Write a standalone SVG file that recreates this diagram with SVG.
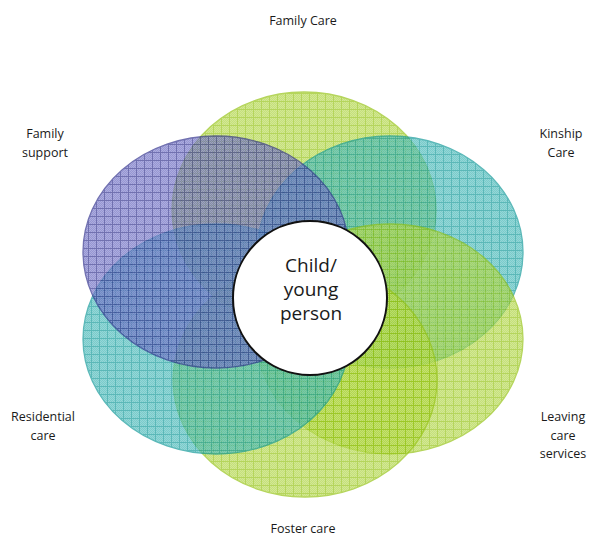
<svg xmlns="http://www.w3.org/2000/svg" width="589" height="536" viewBox="0 0 589 536">
  <style>
    .lbl { font-family: "Open Sans", "Liberation Sans", sans-serif; font-size: 12.5px; fill: #1a1a1a; text-anchor: middle; }
    .hub { font-family: "Open Sans", "Liberation Sans", sans-serif; font-size: 19px; fill: #1a1a1a; text-anchor: middle; }
    .ring { opacity: 0.68; stroke-width: 1.3; }
  </style>
  <defs>
    <!-- fine dither texture -->
    <pattern id="dot" width="2" height="2" patternUnits="userSpaceOnUse">
      <rect width="1" height="1" fill="#ffffff" fill-opacity="0.22"/>
      <rect x="1" y="1" width="1" height="1" fill="#ffffff" fill-opacity="0.22"/>
    </pattern>
    <pattern id="gridPurple" width="8" height="8" patternUnits="userSpaceOnUse">
      <rect width="8" height="8" fill="#6565c0"/>
      <rect width="8" height="8" fill="url(#dot)"/>
      <path d="M0 0.5H8M0.5 0V8" stroke="#2f2f8c" stroke-width="1"/>
    </pattern>
    <pattern id="gridTeal" width="8" height="8" patternUnits="userSpaceOnUse" x="3" y="2">
      <rect width="8" height="8" fill="#3ab4b4"/>
      <rect width="8" height="8" fill="url(#dot)"/>
      <path d="M0 0.5H8M0.5 0V8" stroke="#0f9898" stroke-width="1"/>
    </pattern>
    <pattern id="gridGreen" width="8" height="8" patternUnits="userSpaceOnUse" x="5" y="5">
      <rect width="8" height="8" fill="#acd43a"/>
      <rect width="8" height="8" fill="url(#dot)"/>
      <path d="M0 0.5H8M0.5 0V8" stroke="#93c210" stroke-width="1"/>
    </pattern>
  </defs>

  <g id="connectors"></g>

  <!-- service areas around the child -->
  <g id="family-care-area">
    <ellipse class="ring" cx="304" cy="210" rx="132" ry="118" fill="url(#gridGreen)" stroke="#93c210"/>
  </g>
  <g id="kinship-care-area">
    <ellipse class="ring" cx="390" cy="252" rx="133" ry="116" fill="url(#gridTeal)" stroke="#0f9898"/>
  </g>
  <g id="leaving-care-area">
    <ellipse class="ring" cx="390" cy="339" rx="133" ry="115" fill="url(#gridGreen)" stroke="#93c210"/>
  </g>
  <g id="foster-care-area">
    <ellipse class="ring" cx="305" cy="380" rx="132" ry="117" fill="url(#gridGreen)" stroke="#93c210"/>
  </g>
  <g id="residential-care-area">
    <ellipse class="ring" cx="216" cy="339" rx="133" ry="115" fill="url(#gridTeal)" stroke="#0f9898"/>
  </g>
  <g id="family-support-area">
    <ellipse class="ring" cx="216" cy="252" rx="133" ry="116" fill="url(#gridPurple)" stroke="#2f2f8c"/>
  </g>

  <!-- centre -->
  <g id="child">
    <circle cx="310" cy="298" r="77" fill="#ffffff" stroke="#111111" stroke-width="2"/>
    <text class="hub" x="311" y="272">Child/</text>
    <text class="hub" x="311" y="296">young</text>
    <text class="hub" x="311" y="320">person</text>
  </g>

  <!-- labels -->
  <g id="label-family-care"><text class="lbl" x="303" y="25">Family Care</text></g>
  <g id="label-family-support">
    <text class="lbl" x="45" y="138">Family</text>
    <text class="lbl" x="45" y="157">support</text>
  </g>
  <g id="label-kinship-care">
    <text class="lbl" x="561" y="138">Kinship</text>
    <text class="lbl" x="561" y="157">Care</text>
  </g>
  <g id="label-residential-care">
    <text class="lbl" x="43" y="421">Residential</text>
    <text class="lbl" x="43" y="440">care</text>
  </g>
  <g id="label-leaving-care">
    <text class="lbl" x="563" y="421">Leaving</text>
    <text class="lbl" x="563" y="440">care</text>
    <text class="lbl" x="563" y="458">services</text>
  </g>
  <g id="label-foster-care"><text class="lbl" x="303" y="533">Foster care</text></g>
</svg>
